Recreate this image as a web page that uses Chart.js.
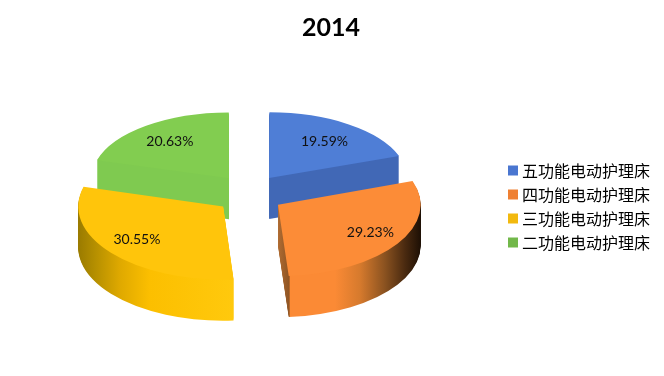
<!DOCTYPE html>
<html>
<head>
<meta charset="utf-8">
<style>
html, body { margin: 0; padding: 0; background: #fff; }
canvas { display: block; }
</style>
<script src="https://cdn.jsdelivr.net/npm/chart.js@4"></script>
</head>
<body>
<canvas id="chart" width="664" height="376"></canvas>
<script>
var categories = ['五功能电动护理床', '四功能电动护理床', '三功能电动护理床', '二功能电动护理床'];
var shares = [19.59, 29.23, 30.55, 20.63];
var chartTitle = '2014';

var topColors = ['#4f7ed6', '#fc8c37', '#ffc50b', '#82cd50'];
var legendColors = ['#4a76d0', '#ef8033', '#f2b90f', '#72b84a'];

// side walls, stops are [canvas x, colour]
var sideStops = [
    [[260, '#4168b6'], [410, '#4168b6']],
    [[278, '#b06c32'], [289, '#8f5524'], [290.5, '#fb8a35'], [335, '#fb8a35'], [360, '#d67a2d'], [385, '#8a5220'], [405, '#4a2a10'], [424, '#140a02']],
    [[76, '#967800'], [95, '#b58f00'], [120, '#dfa900'], [150, '#fcbf00'], [234, '#ffc90d']],
    [[90, '#7fca50'], [230, '#7fca50']]
];

// the pie is flattened, the two front wedges come out a bit bigger
var centerX = 249.5, centerY = 194, explodeTilt = 0.58;
var wedgeScaleX = [1.0, 1.04, 1.05, 1.0];
var wedgeScaleY = [0.475, 0.52, 0.53, 0.48];
var labelRadius = [0.705, 0.78, 0.78, 0.72];
var labelNudgeY = [1, -2, -3, 1];
var depth = 41;
var drawOrder = [0, 3, 2, 1];

function wedgeTransform(ctx, arc, i) {
    var mid = (arc.startAngle + arc.endAngle) / 2;
    var d = arc.options.offset / 4;
    ctx.translate(centerX + d * Math.cos(mid), centerY + d * Math.sin(mid) * explodeTilt);
    ctx.scale(wedgeScaleX[i], wedgeScaleY[i]);
    ctx.translate(-(arc.x + d * Math.cos(mid)), -(arc.y + d * Math.sin(mid)));
}

// arc.draw moves the context by the offset itself, so the gradient is given without it
function sideGradient(ctx, arc, i) {
    var mid = (arc.startAngle + arc.endAngle) / 2;
    var d = arc.options.offset / 4;
    var apexX = centerX + d * Math.cos(mid);
    var toArc = function (x) { return arc.x + (x - apexX) / wedgeScaleX[i]; };
    var stops = sideStops[i];
    var x0 = stops[0][0], x1 = stops[stops.length - 1][0];
    var g = ctx.createLinearGradient(toArc(x0), 0, toArc(x1), 0);
    stops.forEach(function (s) { g.addColorStop((s[0] - x0) / (x1 - x0), s[1]); });
    return g;
}

var pie3d = {
    id: 'pie3d',
    beforeDatasetsDraw: function (chart) {
        var ctx = chart.ctx;
        var arcs = chart.getDatasetMeta(0).data;

        drawOrder.forEach(function (i) {
            var arc = arcs[i];
            var opts = arc.options;
            var side = Object.create(opts);
            side.backgroundColor = sideGradient(ctx, arc, i);
            arc.options = side;
            for (var dy = depth; dy > 0; dy--) {
                ctx.save();
                ctx.translate(0, dy);
                wedgeTransform(ctx, arc, i);
                arc.draw(ctx);
                ctx.restore();
            }
            arc.options = opts;
        });

        drawOrder.forEach(function (i) {
            ctx.save();
            wedgeTransform(ctx, arcs[i], i);
            arcs[i].draw(ctx);
            ctx.restore();
        });

        ctx.save();
        ctx.font = '14px Lato';
        ctx.fillStyle = '#111';
        ctx.textAlign = 'center';
        ctx.textBaseline = 'middle';
        arcs.forEach(function (arc, i) {
            var mid = (arc.startAngle + arc.endAngle) / 2;
            var d = arc.options.offset / 4;
            var r = arc.outerRadius * labelRadius[i];
            var x = centerX + d * Math.cos(mid) + r * wedgeScaleX[i] * Math.cos(mid);
            var y = centerY + d * Math.sin(mid) * explodeTilt + r * wedgeScaleY[i] * Math.sin(mid);
            ctx.fillText(shares[i].toFixed(2) + '%', x, y + labelNudgeY[i]);
        });
        ctx.restore();
        return false;
    }
};

new Chart(document.getElementById('chart').getContext('2d'), {
    type: 'pie',
    data: {
        labels: categories,
        datasets: [{
            data: shares,
            backgroundColor: topColors,
            borderWidth: 0,
            offset: 136,
            radius: 136,
            clip: false
        }]
    },
    plugins: [pie3d],
    options: {
        responsive: false,
        animation: false,
        events: [],
        layout: { padding: { left: 2, right: 4, bottom: 6 } },
        plugins: {
            tooltip: { enabled: false },
            title: {
                display: true,
                text: chartTitle,
                color: '#000',
                font: { family: 'Lato', size: 25, weight: 'bold' },
                padding: { top: 13, bottom: 0 }
            },
            legend: {
                position: 'right',
                fullSize: false,
                labels: {
                    usePointStyle: true,
                    pointStyle: 'rect',
                    boxWidth: 2,
                    boxHeight: 10,
                    padding: 8,
                    color: '#222',
                    font: { family: '"Noto Sans CJK SC"', size: 16 },
                    generateLabels: function (chart) {
                        return categories.map(function (c, i) {
                            return { text: c, fillStyle: legendColors[i], strokeStyle: legendColors[i], lineWidth: 0, pointStyle: 'rect', index: i };
                        });
                    }
                }
            }
        }
    }
});
</script>
</body>
</html>
